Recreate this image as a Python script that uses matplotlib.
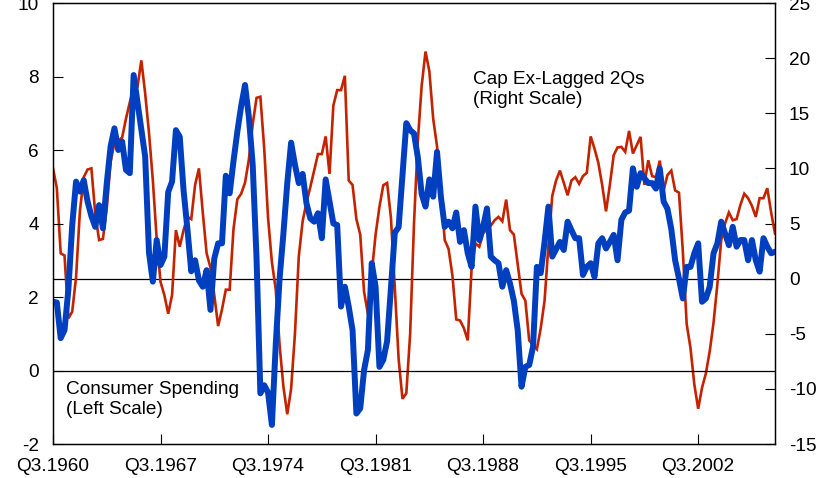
import matplotlib
matplotlib.use('Agg')
import matplotlib.pyplot as plt
import numpy as np

plt.rcParams['font.family'] = ['Liberation Sans', 'DejaVu Sans']
plt.rcParams['axes.unicode_minus'] = False

# Quarterly data, Q3.1960 .. Q3.2007
# Consumer spending (left scale)
consumer = [
    1.87, 1.85, 0.88, 1.1, 2.2, 3.95, 5.14, 4.87, 5.18, 4.6,
    4.2, 3.91, 4.5, 3.87, 5.1, 6.1, 6.59, 6.0, 6.23, 5.46,
    5.37, 8.04, 7.3, 6.54, 5.82, 3.2, 2.42, 3.55, 2.87, 3.1,
    4.86, 5.14, 6.54, 6.36, 4.9, 3.85, 2.7, 3.0, 2.45, 2.28,
    2.73, 1.65, 3.05, 3.46, 3.46, 5.3, 4.82, 5.7, 6.5, 7.2,
    7.77, 6.9, 5.6, 3.06, -0.62, -0.4, -0.6, -1.48, 0.7, 2.5,
    3.73, 5.1, 6.2, 5.6, 5.1, 5.35, 4.55, 4.14, 4.05, 4.28,
    3.6, 5.2, 4.6, 4.0, 3.96, 1.74, 2.28, 1.74, 1.1, -1.17,
    -1.03, 0.01, 0.56, 2.92, 2.28, 0.1, 0.29, 0.8, 2.25, 3.75,
    3.9, 5.3, 6.73, 6.54, 6.45, 5.8, 4.8, 4.46, 5.2, 4.73,
    5.95, 4.73, 3.91, 4.05, 3.87, 4.3, 3.5, 3.82, 3.19, 2.82,
    4.46, 3.55, 3.91, 4.41, 3.1, 3.0, 2.92, 2.28, 2.73, 2.37,
    1.9, 1.1, -0.44, 0.1, 0.15, 0.65, 2.82, 2.65, 3.5, 4.46,
    3.1, 3.3, 3.5, 3.28, 4.05, 3.82, 3.6, 3.6, 2.6, 2.82,
    2.92, 2.55, 3.46, 3.6, 3.32, 3.5, 3.69, 3.0, 4.1, 4.3,
    4.35, 5.5, 5.0, 5.37, 5.23, 5.1, 5.1, 4.95, 5.5, 4.6,
    4.4, 3.85, 3.0, 2.5, 1.96, 2.82, 2.82, 3.19, 3.46, 1.87,
    1.96, 2.28, 3.19, 3.46, 4.05, 3.73, 3.41, 3.91, 3.37, 3.55,
    3.55, 3.0, 3.55, 3.0, 2.69, 3.6, 3.37, 3.19, 3.23,
]

# Cap Ex, lagged 2 quarters (right scale)
capex = [
    10.0, 8.2, 2.3, 2.1, -3.6, -3.0, 0.1, 6.1, 9.2, 9.9,
    10.0, 5.9, 3.5, 3.6, 6.4, 10.6, 12.3, 12.5, 12.8, 14.5,
    16.0, 17.4, 17.4, 19.8, 16.8, 13.2, 8.9, 3.6, -0.3, -1.5,
    -3.18, -1.5, 4.4, 2.9, 4.4, 5.6, 5.4, 8.5, 10.0, 6.0,
    2.3, 1.0, -1.5, -4.3, -2.8, -1.0, -1.0, 4.5, 7.2, 7.7,
    8.7, 10.8, 14.0, 16.4, 16.5, 11.8, 5.5, 1.5, -1.0, -6.0,
    -9.8, -12.3, -10.0, -5.0, 2.0, 5.2, 6.9, 8.3, 9.8, 11.3,
    11.3, 12.9, 9.5, 15.7, 17.1, 17.1, 18.4, 8.9, 8.5, 5.4,
    4.0, -1.2, -3.2, 0.5, 4.0, 6.5, 8.47, 8.68, 5.5, -0.8,
    -7.3, -10.9, -10.4, -5.0, 5.0, 12.5, 17.5, 20.6, 18.8, 14.5,
    12.0, 8.0, 3.5, 2.7, 0.3, -3.7, -3.8, -4.5, -5.6, 0.9,
    3.2, 2.9, 4.1, 4.5, 4.8, 5.3, 5.6, 5.2, 7.17, 4.4,
    4.0, 1.3, -1.37, -2.0, -5.6, -6.0, -6.4, -4.5, -2.0, 3.0,
    7.5, 8.9, 9.8, 8.7, 7.56, 8.9, 9.2, 8.6, 9.3, 9.6,
    12.9, 11.8, 10.5, 8.5, 6.1, 8.5, 11.2, 11.9, 11.95, 11.5,
    13.4, 11.35, 12.1, 12.86, 8.5, 10.74, 9.3, 9.2, 10.7, 8.0,
    9.4, 9.8, 8.0, 7.8, 2.5, -4.1, -6.3, -9.6, -11.8, -9.9,
    -8.6, -6.6, -4.0, -0.5, 3.5, 5.0, 6.0, 5.3, 5.4, 6.7,
    7.7, 7.3, 6.6, 5.6, 7.3, 7.3, 8.2, 6.0, 4.1,
]

tick_labels = ['Q3.1960', 'Q3.1967', 'Q3.1974', 'Q3.1981',
               'Q3.1988', 'Q3.1995', 'Q3.2002']
left_ticks = [-2, 0, 2, 4, 6, 8, 10]
right_ticks = [-15, -10, -5, 0, 5, 10, 15, 20, 25]

blue = '#0040C0'
red = '#C42300'
fs = 13.7

fig = plt.figure(figsize=(8.4, 4.78), dpi=100)
ax = fig.add_axes([0.0631, 0.0711, 0.8595, 0.9226])
ax2 = ax.twinx()

q = np.arange(len(consumer))

# blue line must sit on top of the red one
ax.set_zorder(ax2.get_zorder() + 1)
ax.patch.set_visible(False)

ax2.plot(np.arange(len(capex)), capex, color=red, lw=1.9, solid_joinstyle='miter')
ax2.axhline(0, color='black', lw=0.9, zorder=0)
ax.axhline(0, color='black', lw=0.9, zorder=1)
ax.plot(q, consumer, color=blue, lw=4.3, solid_joinstyle='round')

ax.set_xlim(0, len(consumer) - 1)
ax.set_ylim(-2, 10)
ax2.set_ylim(-15, 25)

ax.set_xticks(np.arange(0, len(consumer), 28))
ax.set_xticklabels(tick_labels)
ax.set_yticks(left_ticks)
ax2.set_yticks(right_ticks)

ax.tick_params(axis='both', direction='in', length=7, width=0.8,
               labelsize=fs, pad=10)
ax2.tick_params(axis='y', direction='in', length=7, width=0.8,
                labelsize=fs, pad=10)

for a in (ax, ax2):
    for s in a.spines.values():
        s.set_linewidth(0.9)

ax.text(0.582, 0.845, 'Cap Ex-Lagged 2Qs\n(Right Scale)', transform=ax.transAxes,
        fontsize=fs, va='top', ha='left')
ax.text(0.0176, 0.143, 'Consumer Spending\n(Left Scale)', transform=ax.transAxes,
        fontsize=fs, va='top', ha='left')

fig.savefig('out.png', dpi=100)
